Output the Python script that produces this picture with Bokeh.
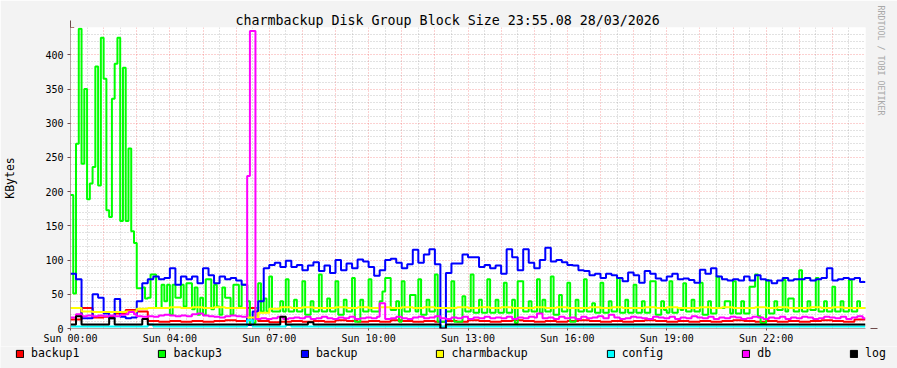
from bokeh.plotting import figure
from bokeh.layouts import column
from bokeh.models import (Range1d, FixedTicker, Arrow, NormalHead, Title, Legend, LegendItem)
from bokeh.embed import file_html
from bokeh.resources import INLINE

# ---------------- data ----------------
title_text = "charmbackup Disk Group Block Size 23:55.08 28/03/2026"
y_title = "KBytes"
watermark = "RRDTOOL / TOBI OETIKER"

x_tick_hours = [0, 3, 6, 9, 12, 15, 18, 21]
x_tick_labels = ["Sun 00:00", "Sun 04:00", "Sun 07:00", "Sun 10:00",
                 "Sun 13:00", "Sun 16:00", "Sun 19:00", "Sun 22:00"]
y_ticks = [0, 50, 100, 150, 200, 250, 300, 350, 400]

series_names = ["backup1", "backup3", "backup", "charmbackup", "config", "db", "log"]
series_colors = ["#ff0000", "#00ff00", "#0000ff", "#ffff00", "#00ffff", "#ff00ff", "#000000"]

# backup1 : 20-minute samples
backup1 = [13, 30, 16,  17, 22, 27,  25, 11, 10,  11, 10, 11,
           10, 11, 12,  11, 30, 11,  9, 10, 11,  10, 11, 10,
           12, 11, 10,  11, 10, 12,  11, 10, 11,  10, 11, 10,
           12, 11, 10,  11, 12, 11,  10, 11, 10,  11, 12, 11,
           10, 11, 10,  11, 12, 11,  10, 11, 10,  11, 10, 11,
           12, 11, 10,  11, 10, 11,  10, 11, 12,  11, 10, 13]

# backup3 : 5-minute samples
backup3 = [195, 51, 270, 438, 241, 350, 189, 212, 236, 383, 209, 425,
           365, 173, 163, 336, 387, 425, 157, 381, 157, 263, 142, 125,
           59, 59, 60, 44, 45, 79, 79, 30, 30, 64, 40, 64,
           20, 64, 45, 45, 64, 32, 66, 66, 28, 60, 20, 45,
           20, 72, 72, 28, 64, 32, 20, 60, 45, 45, 20, 64,
           64, 32, 64, 64, 40, 5, 8, 30, 66, 25, 44, 25,
           76, 25, 25, 25, 40, 25, 72, 25, 25, 42, 25, 25,
           69, 20, 20, 40, 25, 25, 79, 25, 25, 44, 25, 25,
           69, 20, 20, 42, 25, 25, 74, 10, 10, 42, 25, 25,
           72, 25, 25, 25, 40, 54, 74, 74, 27, 27, 40, 10,
           69, 25, 25, 49, 49, 25, 72, 20, 20, 42, 25, 25,
           79, 10, 10, 10, 25, 25, 69, 10, 10, 10, 47, 25,
           25, 79, 23, 23, 42, 23, 23, 72, 23, 23, 42, 23,
           23, 67, 23, 23, 42, 8, 69, 69, 25, 25, 40, 25,
           25, 72, 23, 42, 25, 25, 76, 20, 20, 49, 25, 25,
           67, 10, 10, 42, 25, 25, 72, 25, 25, 37, 23, 23,
           67, 23, 23, 40, 25, 25, 74, 23, 23, 42, 23, 23,
           64, 23, 23, 40, 23, 23, 69, 69, 20, 20, 40, 27,
           23, 69, 23, 23, 30, 27, 66, 25, 25, 42, 25, 25,
           67, 20, 20, 40, 22, 22, 76, 30, 30, 40, 40, 22,
           69, 22, 22, 40, 22, 22, 61, 61, 79, 18, 8, 8,
           71, 22, 22, 40, 27, 27, 71, 25, 44, 44, 25, 25,
           85, 25, 25, 40, 27, 27, 74, 25, 25, 40, 25, 25,
           61, 25, 25, 40, 25, 25, 71, 25, 25, 40, 30, 30]

# backup : 10-minute samples
backup = [80, 72, 15, 15, 50, 45,
          22, 15, 43, 17, 15, 16,
          40, 66, 72, 76, 72, 74,
          88, 64, 76, 72, 76, 66,
          88, 78, 66, 76, 72, 74,
          70, 64, 5, 25, 40, 88,
          93, 96, 90, 99, 90, 93,
          85, 92, 97, 84, 92, 81,
          100, 85, 95, 88, 101, 98,
          90, 77, 85, 100, 102, 96,
          88, 94, 115, 96, 108, 116,
          94, 0, 81, 95, 95, 108,
          104, 104, 90, 93, 88, 92,
          80, 116, 104, 85, 116, 96,
          88, 100, 118, 98, 100, 97,
          93, 92, 85, 84, 78, 80,
          74, 80, 78, 74, 69, 82,
          78, 67, 84, 80, 73, 70,
          76, 80, 72, 73, 71, 67,
          86, 80, 88, 76, 72, 70,
          72, 70, 76, 70, 78, 72,
          70, 66, 70, 74, 70, 72,
          72, 74, 70, 72, 74, 88,
          70, 72, 74, 72, 74, 68]

# charmbackup : 20-minute samples
charmbackup = [30, 25, 24,  24, 24, 25,  29, 30, 30,  31, 30, 31,
               30, 31, 30,  30, 16, 23,  29, 31, 30,  31, 30, 30,
               31, 30, 31,  30, 31, 30,  31, 30, 31,  30, 30, 31,
               30, 31, 30,  31, 30, 30,  31, 30, 31,  30, 30, 31,
               30, 31, 30,  30, 31, 30,  31, 30, 30,  31, 30, 31,
               30, 30, 31,  30, 31, 30,  30, 31, 30,  31, 30, 30]

# config : 10-minute samples
config = [3, 3, 3, 3, 3, 3,  3, 3, 3, 3, 3, 3,
          3, 3, 6, 3, 3, 3,  3, 3, 3, 3, 3, 3,
          3, 3, 3, 3, 3, 3,  3, 3, 12, 3, 3, 3,
          3, 3, 3, 5, 3, 3,  3, 3, 3, 3, 3, 3,
          3, 3, 3, 3, 3, 3,  3, 3, 3, 3, 3, 3,
          3, 3, 3, 3, 3, 3,  3, 3, 3, 3, 3, 3,
          3, 3, 3, 3, 3, 3,  3, 3, 3, 3, 3, 3,
          3, 3, 3, 3, 3, 3,  3, 3, 3, 3, 3, 3,
          3, 3, 3, 3, 3, 3,  3, 3, 3, 3, 3, 3,
          3, 3, 3, 3, 3, 3,  3, 3, 3, 3, 3, 3,
          3, 3, 3, 3, 3, 3,  3, 3, 3, 3, 3, 3,
          3, 3, 3, 3, 3, 3,  3, 3, 3, 3, 3, 3]

# db : 5-minute samples
db = [16, 16, 21, 21, 18, 18, 19, 19, 18, 18, 19, 19,
      18, 18, 19, 19, 18, 18, 20, 20, 21, 24, 24, 21,
      18, 18, 17, 17, 18, 18, 17, 17, 19, 19, 20, 20,
      19, 19, 18, 18, 19, 19, 18, 18, 21, 21, 22, 22,
      19, 19, 18, 18, 17, 17, 16, 16, 18, 18, 19, 19,
      18, 18, 17, 17, 223, 435, 435, 14, 14, 15, 15, 14,
      14, 15, 15, 17, 17, 14, 14, 15, 15, 16, 16, 15,
      15, 17, 17, 14, 14, 15, 15, 17, 17, 15, 15, 14,
      14, 16, 16, 15, 15, 17, 17, 14, 14, 15, 15, 16,
      16, 15, 15, 17, 37, 37, 14, 14, 15, 15, 17, 17,
      15, 15, 14, 14, 16, 16, 17, 17, 15, 15, 16, 16,
      18, 18, 15, 15, 14, 14, 16, 16, 15, 15, 17, 17,
      14, 14, 16, 16, 15, 15, 17, 17, 15, 15, 16, 16,
      15, 15, 17, 17, 14, 14, 16, 16, 15, 15, 17, 17,
      16, 22, 22, 15, 15, 16, 16, 14, 14, 17, 17, 15,
      15, 16, 16, 14, 14, 17, 17, 15, 15, 16, 16, 18,
      18, 15, 15, 20, 20, 16, 16, 14, 14, 15, 15, 17,
      17, 16, 16, 15, 15, 14, 14, 17, 17, 16, 16, 15,
      15, 17, 17, 14, 14, 16, 16, 15, 15, 18, 18, 16,
      16, 15, 15, 17, 17, 14, 14, 16, 16, 15, 15, 17,
      17, 16, 16, 14, 14, 15, 15, 17, 17, 16, 16, 14,
      14, 16, 16, 15, 15, 17, 17, 14, 14, 16, 16, 15,
      15, 17, 17, 16, 16, 14, 14, 15, 15, 17, 17, 16,
      16, 15, 15, 17, 17, 14, 14, 16, 16, 18, 18, 15]

# log : 10-minute samples
log = [6, 18, 6, 6, 6, 6,  6, 15, 6, 6, 6, 6,
       6, 14, 6, 6, 6, 6,  6, 6, 6, 6, 6, 6,
       6, 6, 6, 6, 6, 6,  6, 6, 6, 6, 6, 6,
       6, 6, 17, 6, 6, 6,  6, 9, 6, 6, 6, 6,
       6, 6, 6, 6, 6, 6,  6, 6, 6, 6, 6, 6,
       6, 6, 6, 6, 6, 6,  6, 0, 6, 6, 6, 6,
       6, 6, 6, 6, 6, 6,  6, 6, 6, 6, 6, 6,
       6, 6, 6, 6, 6, 6,  6, 6, 6, 6, 6, 6,
       6, 6, 6, 6, 6, 6,  6, 6, 6, 6, 6, 6,
       6, 6, 6, 6, 6, 6,  6, 6, 6, 6, 6, 6,
       6, 6, 6, 6, 6, 6,  6, 6, 6, 6, 6, 6,
       6, 6, 6, 6, 6, 6,  6, 6, 6, 6, 6, 6]

series_values = [backup1, backup3, backup, charmbackup, config, db, log]

# ---------------- styling ----------------
FONT = "DejaVu Sans Mono"
AXIS_COL = "#6e4a4a"
ARROW_COL = "#7f2a2a"
BG = "#f3f3f3"
W = 897
H_MAIN, H_LEG = 346, 22                # main chart + legend strip = 368
FL, FR, FT, FB = 67, 866, 27, 328      # frame edges on the page


def sx(px):
    return px - FL


def sy(py):
    return FB - py


p = figure(width=W, height=H_MAIN, x_range=Range1d(0, 24), y_range=Range1d(0, 440),
           output_backend="svg", toolbar_location=None,
           min_border_left=FL, min_border_right=W - FR, min_border_top=FT,
           min_border_bottom=H_MAIN - FB,
           background_fill_color="#ffffff", border_fill_color=BG)
p.outline_line_color = None

# title
p.title.text = title_text
p.title.align = "left"
p.title.offset = 232 - FL
p.title.standoff = 0
p.title.text_font = FONT
p.title.text_font_size = "13.3px"
p.title.text_font_style = "normal"
p.title.text_color = "#000000"

# watermark on the right edge
p.add_layout(Title(text=watermark, align="left", offset=-22, standoff=20,
                   text_font=FONT, text_font_size="8.3px", text_font_style="normal",
                   text_color="#a8a8a8"), "right")

# grids
p.xgrid.ticker = FixedTicker(ticks=list(range(25)), minor_ticks=[h + 0.5 for h in range(24)])
p.ygrid.ticker = FixedTicker(ticks=y_ticks, minor_ticks=[v for v in range(0, 441, 10) if v % 50])
for g in (p.xgrid, p.ygrid):
    g.grid_line_color = "#f03030"
    g.grid_line_alpha = 0.45
    g.grid_line_dash = "1 2"
    g.minor_grid_line_color = "#8c8c8c"
    g.minor_grid_line_alpha = 0.5
    g.minor_grid_line_dash = "1 2"

# axes
p.xaxis.ticker = FixedTicker(ticks=x_tick_hours)
p.xaxis.major_label_overrides = {h: lab for h, lab in zip(x_tick_hours, x_tick_labels)}
p.yaxis.ticker = FixedTicker(ticks=y_ticks)
for ax in (p.xaxis[0], p.yaxis[0]):
    ax.axis_line_color = None
    ax.major_tick_line_color = AXIS_COL
    ax.major_tick_in = 0
    ax.minor_tick_line_color = None
    ax.major_label_text_font = FONT
    ax.major_label_text_font_size = "10px"
    ax.major_label_text_color = "#000000"
p.xaxis.major_tick_out = 2
p.xaxis.major_label_standoff = 2
p.yaxis.major_tick_out = 3
p.yaxis.major_label_standoff = 4
p.yaxis.axis_label = y_title
p.yaxis.axis_label_text_font = FONT
p.yaxis.axis_label_text_font_size = "11.5px"
p.yaxis.axis_label_text_font_style = "normal"
p.yaxis.axis_label_text_color = "#000000"
p.yaxis.axis_label_standoff = 25

# series
for name, col, vals in zip(series_names, series_colors, series_values):
    n = len(vals)
    step = 24.0 / n
    ts = [i * step for i in range(n + 1)]
    ys = list(vals) + [vals[-1]]
    p.step(ts, ys, mode="after", line_color=col, line_width=2)

# axis lines with arrows
p.add_layout(Arrow(x_start=sx(67), y_start=sy(331), x_end=sx(67), y_end=sy(20),
                   start_units="screen", end_units="screen",
                   line_color=AXIS_COL, line_width=1,
                   end=NormalHead(size=7, fill_color=ARROW_COL, line_color=ARROW_COL)))
p.add_layout(Arrow(x_start=sx(62), y_start=sy(328), x_end=sx(874), y_end=sy(328),
                   start_units="screen", end_units="screen",
                   line_color=AXIS_COL, line_width=1,
                   end=NormalHead(size=7, fill_color=ARROW_COL, line_color=ARROW_COL)))

# ---------------- legend strip (its own frame spans the whole strip) ----------------
leg = figure(width=W, height=H_LEG, x_range=Range1d(0, 1), y_range=Range1d(0, 1),
             output_backend="svg", toolbar_location=None,
             x_axis_location=None, y_axis_location=None,
             min_border_left=0, min_border_right=0, min_border_top=0, min_border_bottom=0,
             background_fill_color=BG, border_fill_color=BG)
leg.outline_line_color = None
leg.xgrid.visible = False
leg.ygrid.visible = False
for fig in (p, leg):
    try:
        fig.frame_align = False          # keep the strip's frame independent of the chart's
    except AttributeError:
        pass

items = []
for name, col in zip(series_names, series_colors):
    # swatch-only renderer: its single box lies outside the strip's visible range
    r = leg.quad(left=[2], right=[3], top=[3], bottom=[2], fill_color=col,
                 line_color="#000000", line_width=1)
    items.append(LegendItem(label=name, renderers=[r]))
legend = Legend(items=items, orientation="horizontal",
                location=(15, (H_MAIN + H_LEG) - 360),
                spacing=78, label_standoff=7, glyph_width=9, glyph_height=9,
                label_height=9, label_width=0, padding=0, margin=0,
                border_line_color=None, background_fill_alpha=0,
                label_text_font=FONT, label_text_font_size="11.5px",
                label_text_color="#000000")
leg.add_layout(legend)

page = column(p, leg, spacing=0)
open("out.html", "w").write(file_html(page, INLINE))
